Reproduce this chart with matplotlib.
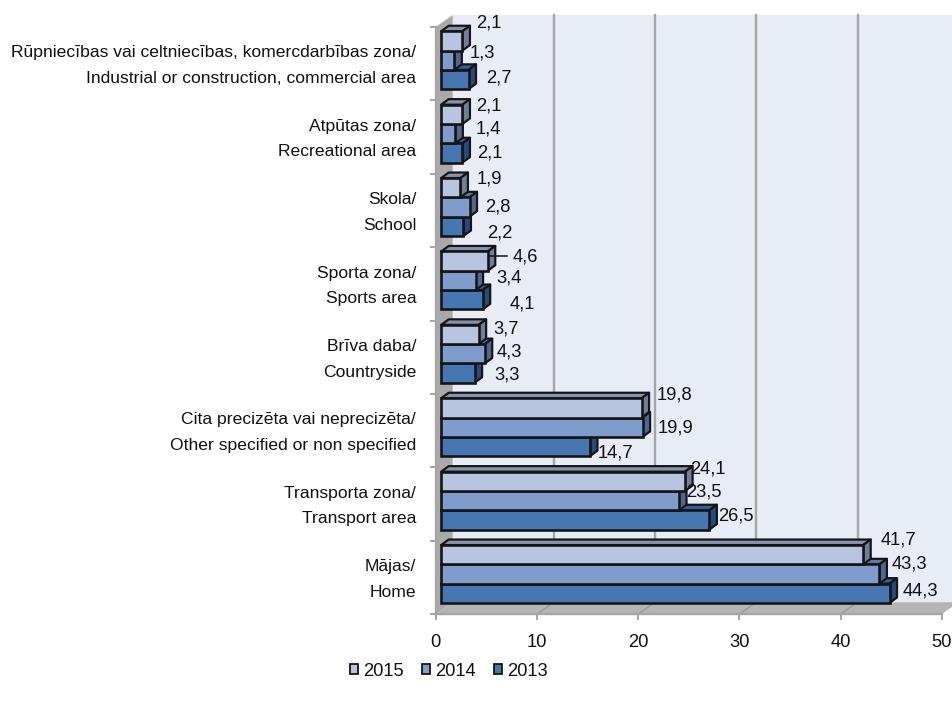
import matplotlib
matplotlib.use("Agg")
import matplotlib.pyplot as plt
from matplotlib.patches import Patch
from matplotlib.transforms import Affine2D

plt.rcParams['font.family'] = ['Liberation Sans', 'DejaVu Sans']
FS_CAT = 12.6
FS_NUM = 13.2

categories = ["Mājas/\nHome",
              "Transporta zona/\nTransport area",
              "Cita precizēta vai neprecizēta/\nOther specified or non specified",
              "Brīva daba/\nCountryside",
              "Sporta zona/\nSports area",
              "Skola/\nSchool",
              "Atpūtas zona/\nRecreational area",
              "Rūpniecības vai celtniecības, komercdarbības zona/\nIndustrial or construction, commercial area"]
v2015 = [41.7, 24.1, 19.8, 3.7, 4.6, 1.9, 2.1, 2.1]
v2014 = [43.3, 23.5, 19.9, 4.3, 3.4, 2.8, 1.4, 1.3]
v2013 = [44.3, 26.5, 14.7, 3.3, 4.1, 2.2, 2.1, 2.7]
xticks = [0, 10, 20, 30, 40, 50]

# label offsets from bar end, pixels (dx, dy up)
off2015 = [(35, 15), (23, 12), (33, 13), (27, 5.5), (38, 4), (29, 9), (26, 8), (26, 18)]
off2014 = [(30, 10), (25, 9), (33, -1), (24.5, 2), (33, 2), (28, 0), (33, 5), (28, 7)]
off2013 = [(31, 2), (26, 4), (25, -6.5), (32.5, -2), (39.5, -4), (36, -7), (27, 0), (30, 1.5)]

series = [("2015", v2015, off2015, "#B7C5E0", "#8793AD", "#727E9A", 0.263),
          ("2014", v2014, off2014, "#7F9DCC", "#5F79A6", "#4E6690", 0.0),
          ("2013", v2013, off2013, "#4677B3", "#34609A", "#274A7C", -0.263)]

W, H = 952, 706
L, R, B, T = 435.7, 941.7, 614.2, 27.0
fig = plt.figure(figsize=(W / 100, H / 100), dpi=100)
ax = fig.add_axes([L / W, 1 - B / H, (R - L) / W, (B - T) / H])
ax.set_xlim(0, 50)
ax.set_ylim(-0.5, 7.5)
PX_X = (R - L) / 50
PX_Y = (B - T) / 8
ux = lambda p: p / PX_X
uy = lambda p: p / PX_Y
px = 0.72
GREY = "#A6A6A6"

# chart box depth
DX, DY = ux(17), uy(12)
ax.fill([DX, 50 + DX, 50 + DX, DX], [-0.5 + DY, -0.5 + DY, 7.5 + DY, 7.5 + DY],
        color="#E8ECF5", lw=0, clip_on=False, zorder=0)
ax.fill([0, DX, DX, 0], [-0.5, -0.5 + DY, 7.5 + DY, 7.5], color="#A9A9A9", lw=0, clip_on=False, zorder=1)
ax.fill([0, 50, 50 + DX, DX], [-0.5, -0.5, -0.5 + DY, -0.5 + DY], color="#B5B5B5", lw=0, clip_on=False, zorder=1)
for t in xticks[1:-1]:
    ax.plot([t + DX, t + DX], [-0.5 + DY, 7.5 + DY], color=GREY, lw=2.4 * px, clip_on=False, zorder=1.5)
for t in xticks[1:-1]:
    ax.plot([t, t + DX], [-0.5, -0.5 + DY], color="#999999", lw=1.4 * px, clip_on=False, zorder=1.5)

# bars: lowest bar of a cluster first, so upper bars cover its top face
bx, by = ux(5.5), uy(3.5)
dx, dy = ux(7.5), uy(5.5)
h = 0.263
EDGE = "#151515"
for i in range(8):
    for name, vals, offs, front, top, side, shift in reversed(series):
        v = vals[i]
        y0 = i + shift + by - h / 2
        y1 = y0 + h
        x0, x1 = bx, bx + v
        z = 3
        ax.fill([x0, x1, x1 + dx, x0 + dx], [y1, y1, y1 + dy, y1 + dy], facecolor=top, edgecolor=EDGE,
                lw=2.2 * px, clip_on=False, zorder=z, joinstyle="round")
        ax.fill([x1, x1 + dx, x1 + dx, x1], [y0, y0 + dy, y1 + dy, y1], facecolor=side, edgecolor=EDGE,
                lw=2.2 * px, clip_on=False, zorder=z, joinstyle="round")
        ax.barh(y0 + h / 2, v, height=h, left=x0, color=front, edgecolor=EDGE, linewidth=2.6 * px,
                clip_on=False, zorder=z)
        ax.annotate(f"{v:.1f}".replace(".", ","), xy=(x1, y0 + h / 2),
                    xytext=(offs[i][0] * px, offs[i][1] * px), textcoords="offset points",
                    ha="center", va="center", fontsize=FS_NUM, color="#111111", zorder=6,
                    annotation_clip=False)

# leader line for the one detached label
ax.plot([v2015[4] + bx + ux(1), v2015[4] + bx + ux(19)],
        [4 + 0.263 + by + uy(5), 4 + 0.263 + by + uy(5)], color="#111111", lw=1.5 * px, zorder=5, clip_on=False)

# axes
for s in ("top", "right"):
    ax.spines[s].set_visible(False)
for s in ("left", "bottom"):
    ax.spines[s].set_color(GREY)
    ax.spines[s].set_linewidth(2.4 * px)
    ax.spines[s].set_zorder(2)
ax.set_xticks(xticks)
ax.set_xticklabels([str(t) for t in xticks], fontsize=FS_NUM, color="#111111")
ax.tick_params(axis="x", color=GREY, width=2 * px, length=6 * px, pad=14 * px)
ax.set_yticks(range(8))
ax.set_yticklabels(categories, fontsize=FS_CAT, color="#111111", linespacing=1.9, ha="right", va="center")
ax.tick_params(axis="y", which="major", length=0, pad=19.5 * px)
ax.set_yticks([i - 0.5 for i in range(9)], minor=True)
ax.tick_params(axis="y", which="minor", color=GREY, width=2 * px, length=6 * px)
for lab in ax.get_yticklabels():
    lab.set_transform(lab.get_transform() + Affine2D().translate(0, -2))
ax.patch.set_alpha(0)

handles = [Patch(facecolor=s[3], edgecolor=EDGE, linewidth=1.8 * px, label=s[0]) for s in series]
leg = fig.legend(handles=handles, loc="center", bbox_to_anchor=(449 / W, 1 - 671 / H), ncol=3, frameon=False,
                 fontsize=FS_NUM, handlelength=0.42, handleheight=0.42, handletextpad=0.3, columnspacing=1.0,
                 borderpad=0, labelcolor="#111111")

fig.savefig("out.png", dpi=100)
